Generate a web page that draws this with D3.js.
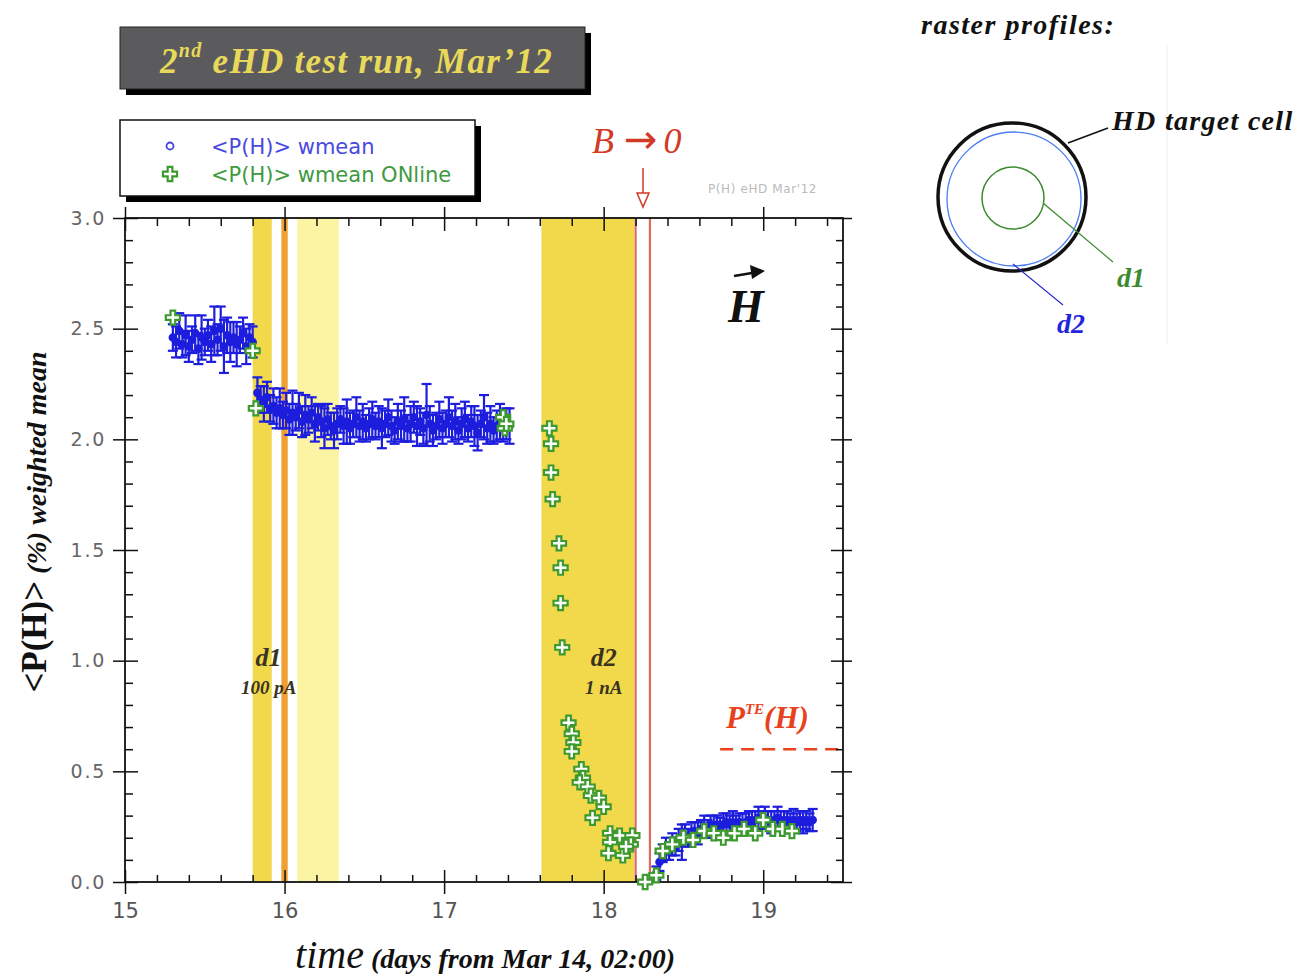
<!DOCTYPE html>
<html>
<head>
<meta charset="utf-8">
<script src="https://cdn.jsdelivr.net/npm/d3@7"></script>
<style>
  body { margin: 0; background: #fff; }
</style>
</head>
<body>
<div class="vis-pchart"></div>
<script>
// ticks
const xTicks = [15, 16, 17, 18, 19];
const yTicks = [0, 0.5, 1.0, 1.5, 2.0, 2.5, 3.0];

// <P(H)> wmean : [time, value, error]
const wmeanA = [
  [15.30, 2.46, 0.06], [15.32, 2.44, 0.07], [15.34, 2.49, 0.08], [15.36, 2.43, 0.06],
  [15.38, 2.47, 0.09], [15.40, 2.42, 0.07], [15.42, 2.45, 0.06], [15.44, 2.48, 0.08],
  [15.46, 2.41, 0.07], [15.48, 2.46, 0.10], [15.50, 2.44, 0.06], [15.52, 2.47, 0.07],
  [15.54, 2.43, 0.08], [15.56, 2.49, 0.11], [15.58, 2.45, 0.07], [15.60, 2.50, 0.10],
  [15.62, 2.42, 0.12], [15.64, 2.47, 0.08], [15.66, 2.44, 0.09], [15.68, 2.46, 0.07],
  [15.70, 2.43, 0.10], [15.72, 2.45, 0.06], [15.74, 2.48, 0.07], [15.76, 2.42, 0.08],
  [15.78, 2.46, 0.06], [15.80, 2.44, 0.07]
];
const wmeanB = [
  [15.83, 2.21, 0.07], [15.85, 2.18, 0.06], [15.87, 2.16, 0.08], [15.89, 2.19, 0.07],
  [15.91, 2.14, 0.06], [15.93, 2.15, 0.08], [15.95, 2.12, 0.07], [15.97, 2.14, 0.09],
  [15.99, 2.11, 0.06], [16.01, 2.13, 0.08], [16.03, 2.09, 0.07], [16.05, 2.12, 0.10],
  [16.07, 2.10, 0.06], [16.09, 2.13, 0.08], [16.11, 2.08, 0.07], [16.13, 2.11, 0.09],
  [16.15, 2.09, 0.06], [16.17, 2.12, 0.07], [16.19, 2.07, 0.08], [16.21, 2.10, 0.06],
  [16.23, 2.08, 0.07], [16.25, 2.05, 0.09], [16.27, 2.09, 0.07], [16.29, 2.06, 0.06],
  [16.31, 2.04, 0.08], [16.33, 2.07, 0.07], [16.35, 2.09, 0.06], [16.37, 2.06, 0.08],
  [16.39, 2.08, 0.10], [16.41, 2.05, 0.07], [16.43, 2.07, 0.06], [16.45, 2.10, 0.09],
  [16.47, 2.06, 0.07], [16.49, 2.08, 0.08], [16.51, 2.05, 0.06], [16.53, 2.07, 0.07],
  [16.55, 2.09, 0.08], [16.57, 2.06, 0.06], [16.59, 2.08, 0.07], [16.61, 2.05, 0.09],
  [16.63, 2.07, 0.06], [16.65, 2.10, 0.08], [16.67, 2.06, 0.07], [16.69, 2.04, 0.06],
  [16.71, 2.08, 0.08], [16.73, 2.06, 0.07], [16.75, 2.09, 0.10], [16.77, 2.05, 0.06],
  [16.79, 2.07, 0.08], [16.81, 2.10, 0.07], [16.83, 2.06, 0.09], [16.85, 2.08, 0.06],
  [16.87, 2.05, 0.07], [16.89, 2.11, 0.14], [16.91, 2.07, 0.08], [16.93, 2.04, 0.07],
  [16.95, 2.06, 0.06], [16.97, 2.09, 0.08], [16.99, 2.05, 0.07], [17.01, 2.07, 0.06],
  [17.03, 2.10, 0.09], [17.05, 2.06, 0.07], [17.07, 2.08, 0.08], [17.09, 2.04, 0.06],
  [17.11, 2.07, 0.07], [17.13, 2.09, 0.08], [17.15, 2.05, 0.06], [17.17, 2.08, 0.07],
  [17.19, 2.06, 0.09], [17.21, 2.03, 0.08], [17.23, 2.07, 0.06], [17.25, 2.10, 0.10],
  [17.27, 2.05, 0.07], [17.29, 2.07, 0.08], [17.31, 2.04, 0.06], [17.33, 2.06, 0.07],
  [17.35, 2.08, 0.08], [17.37, 2.05, 0.06], [17.39, 2.07, 0.07], [17.41, 2.06, 0.08]
];
const wmeanC = [
  [18.33, 0.04, 0.03], [18.35, 0.09, 0.04], [18.37, 0.13, 0.04], [18.39, 0.15, 0.05],
  [18.41, 0.14, 0.04], [18.43, 0.17, 0.05], [18.45, 0.16, 0.04], [18.47, 0.19, 0.05],
  [18.49, 0.18, 0.08], [18.51, 0.21, 0.05], [18.53, 0.20, 0.04], [18.55, 0.22, 0.05],
  [18.57, 0.23, 0.04], [18.59, 0.22, 0.05], [18.61, 0.24, 0.04], [18.63, 0.25, 0.05],
  [18.65, 0.24, 0.04], [18.67, 0.26, 0.04], [18.69, 0.25, 0.05], [18.71, 0.26, 0.04],
  [18.73, 0.25, 0.04], [18.75, 0.26, 0.05], [18.77, 0.27, 0.04], [18.79, 0.26, 0.04],
  [18.81, 0.27, 0.05], [18.83, 0.26, 0.04], [18.85, 0.27, 0.04], [18.87, 0.26, 0.05],
  [18.89, 0.27, 0.04], [18.91, 0.28, 0.04], [18.93, 0.27, 0.05], [18.95, 0.28, 0.04],
  [18.97, 0.29, 0.05], [18.99, 0.28, 0.04], [19.01, 0.29, 0.05], [19.03, 0.28, 0.04],
  [19.05, 0.27, 0.05], [19.07, 0.28, 0.04], [19.09, 0.29, 0.05], [19.11, 0.28, 0.04],
  [19.13, 0.27, 0.05], [19.15, 0.28, 0.04], [19.17, 0.27, 0.04], [19.19, 0.28, 0.05],
  [19.21, 0.27, 0.04], [19.23, 0.28, 0.04], [19.25, 0.27, 0.05], [19.27, 0.28, 0.04],
  [19.29, 0.27, 0.04], [19.31, 0.28, 0.05]
];

// <P(H)> wmean ONline : [time, value]
const online = [
  [15.30, 2.55], [15.80, 2.40], [15.82, 2.14], [17.37, 2.10], [17.38, 2.05], [17.39, 2.07],
  [17.66, 2.05], [17.67, 1.98], [17.67, 1.85], [17.68, 1.73], [17.72, 1.53], [17.73, 1.42],
  [17.73, 1.26], [17.74, 1.06], [17.78, 0.72], [17.80, 0.67], [17.81, 0.63], [17.80, 0.59],
  [17.86, 0.51], [17.87, 0.47], [17.85, 0.45], [17.90, 0.43], [17.92, 0.39], [17.97, 0.38],
  [18.00, 0.34], [17.93, 0.29], [18.04, 0.22], [18.10, 0.21], [18.18, 0.21], [18.04, 0.18],
  [18.17, 0.17], [18.03, 0.13], [18.12, 0.12], [18.14, 0.16], [18.26, 0.00], [18.33, 0.03],
  [18.37, 0.14], [18.43, 0.17], [18.50, 0.20], [18.56, 0.19], [18.63, 0.23], [18.69, 0.22],
  [18.75, 0.20], [18.82, 0.22], [18.88, 0.24], [18.95, 0.22], [19.00, 0.28], [19.06, 0.24],
  [19.12, 0.24], [19.18, 0.23]
];

// beam periods: [start, end, kind]
const bands = [
  [15.80, 15.92, "d1"], [15.98, 16.02, "orange"], [16.08, 16.34, "light"], [17.61, 18.19, "d2"]
];
const bOffLines = [18.20, 18.29];
const pTE = 0.6;

const bandColor = {d1: "#f1d94b", d2: "#f1d94b", orange: "#f0a033", light: "#fbf4a2"};
const blue = "#1d1ddd", green = "#3c9a2e", red = "#d23a26";
const serif = "Liberation Serif, DejaVu Serif, serif";
const sans = "DejaVu Sans, Verdana, sans-serif";

const svg = d3.select(".vis-pchart").append("svg")
    .attr("width", 1313)
    .attr("height", 977)
    .attr("font-family", serif);

const x = d3.scaleLinear().domain([15, 19.5]).range([125, 843]);
const y = d3.scaleLinear().domain([0, 3]).range([882, 218]);

// bands
svg.append("g").selectAll("rect")
    .data(bands)
    .enter().append("rect")
    .attr("x", d => x(d[0]))
    .attr("width", d => x(d[1]) - x(d[0]))
    .attr("y", y(3))
    .attr("height", y(0) - y(3))
    .attr("fill", d => bandColor[d[2]]);

svg.append("g").selectAll("line")
    .data(bOffLines)
    .enter().append("line")
    .attr("x1", d => x(d)).attr("x2", d => x(d))
    .attr("y1", y(3)).attr("y2", y(0))
    .attr("stroke", "#dd6a5a")
    .attr("stroke-width", 2.2);

// P_TE dashed line
svg.append("line")
    .attr("x1", x(18.73)).attr("x2", x(19.5))
    .attr("y1", y(pTE)).attr("y2", y(pTE))
    .attr("stroke", "#e8421c")
    .attr("stroke-width", 2.5)
    .attr("stroke-dasharray", "13,8");

// axes
const minorX = d3.range(15, 19.51, 0.2).filter(v => Math.abs(v - Math.round(v)) > 0.01);
const minorY = d3.range(0, 3.01, 0.1).filter(v => Math.abs(v * 2 - Math.round(v * 2)) > 0.01);

function axisPart(gen, tr, vals, size, fmt) {
    const g = svg.append("g")
        .attr("transform", tr)
        .call(gen.tickValues(vals).tickSize(size).tickSizeOuter(0).tickFormat(fmt || ""));
    g.select(".domain").remove();
    g.selectAll("line").attr("stroke", "#111").attr("stroke-width", 1.5);
    return g;
}

const bx = axisPart(d3.axisBottom(x), "translate(0,882)", xTicks, 12, d3.format("d"));
bx.selectAll("text").style("font-family", sans)
    .style("font-size", "21px").attr("fill", "#555").attr("dy", "1.0em");
axisPart(d3.axisBottom(x), "translate(0,882)", xTicks, -12);
axisPart(d3.axisBottom(x), "translate(0,882)", minorX, -7);
axisPart(d3.axisTop(x), "translate(0,218)", xTicks, 11);
axisPart(d3.axisTop(x), "translate(0,218)", xTicks, -13);
axisPart(d3.axisTop(x), "translate(0,218)", minorX, -8);

const ly = axisPart(d3.axisLeft(y), "translate(125,0)", yTicks, 12, d3.format(".1f"));
ly.selectAll("text").style("font-family", sans)
    .style("font-size", "19px").attr("fill", "#666").attr("letter-spacing", 1.8).attr("dx", "-0.2em");
axisPart(d3.axisLeft(y), "translate(125,0)", yTicks, -13);
axisPart(d3.axisLeft(y), "translate(125,0)", minorY, -8);
axisPart(d3.axisRight(y), "translate(843,0)", yTicks, 9);
axisPart(d3.axisRight(y), "translate(843,0)", yTicks, -12);
axisPart(d3.axisRight(y), "translate(843,0)", minorY, -7);

svg.append("rect")
    .attr("x", x(15)).attr("y", y(3))
    .attr("width", x(19.5) - x(15)).attr("height", y(0) - y(3))
    .attr("fill", "none").attr("stroke", "#111").attr("stroke-width", 1.8);

// wmean with error bars
const wmean = wmeanA.concat(wmeanB, wmeanC);
const pts = svg.append("g").selectAll("g")
    .data(wmean)
    .enter().append("g")
    .attr("stroke", blue)
    .attr("stroke-width", 2.2)
    .attr("fill", "none");

pts.append("line")
    .attr("x1", d => x(d[0])).attr("x2", d => x(d[0]))
    .attr("y1", d => y(d[1] - d[2])).attr("y2", d => y(d[1] + d[2]));
pts.append("line")
    .attr("x1", d => x(d[0]) - 5).attr("x2", d => x(d[0]) + 5)
    .attr("y1", d => y(d[1] + d[2])).attr("y2", d => y(d[1] + d[2]));
pts.append("line")
    .attr("x1", d => x(d[0]) - 5).attr("x2", d => x(d[0]) + 5)
    .attr("y1", d => y(d[1] - d[2])).attr("y2", d => y(d[1] - d[2]));
pts.append("circle")
    .attr("cx", d => x(d[0])).attr("cy", d => y(d[1]))
    .attr("r", 3.2)
    .attr("fill", blue);

// ONline crosses
const cross = d3.symbol().type(d3.symbolCross).size(110);
svg.append("g").selectAll("path")
    .data(online)
    .enter().append("path")
    .attr("d", cross)
    .attr("transform", d => `translate(${x(d[0])},${y(d[1])})`)
    .attr("fill", "#fff")
    .attr("stroke", green)
    .attr("stroke-width", 2.2);

// annotations inside the plot
const note = svg.append("g").attr("font-style", "italic").attr("font-weight", "bold");
note.append("text").attr("x", x(15.9)).attr("y", 666).attr("text-anchor", "middle")
    .attr("font-size", 26).attr("fill", "#3a3320").text("d1");
note.append("text").attr("x", x(15.9)).attr("y", 694).attr("text-anchor", "middle")
    .attr("font-size", 19).attr("fill", "#3a3320").text("100 pA");
note.append("text").attr("x", x(18.0)).attr("y", 666).attr("text-anchor", "middle")
    .attr("font-size", 26).attr("fill", "#3a3320").text("d2");
note.append("text").attr("x", x(18.0)).attr("y", 694).attr("text-anchor", "middle")
    .attr("font-size", 19).attr("fill", "#3a3320").text("1 nA");

const pte = note.append("text").attr("x", 726).attr("y", 728)
    .attr("font-size", 31).attr("fill", "#e8421c");
pte.append("tspan").text("P");
pte.append("tspan").attr("font-size", 15).attr("dy", -14).text("TE");
pte.append("tspan").attr("dy", 14).text("(H)");

note.append("text").attr("x", 728).attr("y", 322)
    .attr("font-size", 46).attr("fill", "#111").text("H");
svg.append("line").attr("x1", 734).attr("y1", 276).attr("x2", 758).attr("y2", 272)
    .attr("stroke", "#111").attr("stroke-width", 2.5);
svg.append("path").attr("d", "M750,265 L765,271 L752,279 Z").attr("fill", "#111");

// B -> 0
const bt = svg.append("text").attr("x", 592).attr("y", 153)
    .attr("font-style", "italic").attr("font-size", 36).attr("fill", red);
bt.append("tspan").text("B");
bt.append("tspan").attr("dx", 10).attr("font-style", "normal").attr("font-family", sans)
    .attr("font-size", 40).text("\u2192");
bt.append("tspan").attr("dx", 6).text("0");
svg.append("line").attr("x1", 643).attr("y1", 168).attr("x2", 643).attr("y2", 205)
    .attr("stroke", red).attr("stroke-width", 1.5);
svg.append("path").attr("d", "M637,193 L649,193 L643,207 Z")
    .attr("fill", "#fff").attr("stroke", red).attr("stroke-width", 1.5);

svg.append("text").attr("x", 708).attr("y", 193)
    .style("font-family", sans).attr("font-size", 12)
    .attr("fill", "#bbb").attr("letter-spacing", 0.6).text("P(H) eHD Mar'12");

// title box
svg.append("rect").attr("x", 126).attr("y", 33).attr("width", 465).attr("height", 62).attr("fill", "#000");
svg.append("rect").attr("x", 120).attr("y", 27).attr("width", 465).attr("height", 62)
    .attr("fill", "#5b5b5d").attr("stroke", "#222").attr("stroke-width", 1);
const title = svg.append("text").attr("x", 160).attr("y", 73)
    .attr("font-style", "italic").attr("font-weight", "bold").attr("font-size", 35)
    .attr("letter-spacing", 1.3).attr("fill", "#e9d95a");
title.append("tspan").text("2");
title.append("tspan").attr("font-size", 20).attr("dy", -16).text("nd");
title.append("tspan").attr("dy", 16).text(" eHD test run, Mar\u201912");

// legend box
svg.append("rect").attr("x", 126).attr("y", 126).attr("width", 355).attr("height", 76).attr("fill", "#000");
svg.append("rect").attr("x", 120).attr("y", 120).attr("width", 355).attr("height", 76)
    .attr("fill", "#fff").attr("stroke", "#111").attr("stroke-width", 1.5);
svg.append("circle").attr("cx", 170).attr("cy", 146).attr("r", 3.5)
    .attr("fill", "#fff").attr("stroke", "#4444dd").attr("stroke-width", 1.8);
svg.append("path").attr("d", cross).attr("transform", "translate(170,174)")
    .attr("fill", "#fff").attr("stroke", green).attr("stroke-width", 2.2);
svg.append("text").attr("x", 211).attr("y", 154)
    .style("font-family", sans).attr("font-size", 21)
    .attr("fill", "#4a4ae0").text("<P(H)> wmean");
svg.append("text").attr("x", 211).attr("y", 182)
    .style("font-family", sans).attr("font-size", 21)
    .attr("fill", "#3f9a3f").text("<P(H)> wmean ONline");

// axis titles
const yl = svg.append("text")
    .attr("transform", "translate(46,522) rotate(-90)")
    .attr("text-anchor", "middle").attr("font-weight", "bold").attr("fill", "#111");
yl.append("tspan").attr("font-size", 35).text("<P(H)>");
yl.append("tspan").attr("font-size", 28).attr("font-style", "italic").text(" (%) weighted mean");

const xl = svg.append("text").attr("x", 485).attr("y", 968)
    .attr("text-anchor", "middle").attr("font-style", "italic").attr("fill", "#111");
xl.append("tspan").attr("font-size", 40).text("time");
xl.append("tspan").attr("font-size", 28).attr("font-weight", "bold").text(" (days from Mar 14, 02:00)");

// raster profiles sketch
const rp = svg.append("g");
rp.append("line").attr("x1", 1167).attr("y1", 45).attr("x2", 1167).attr("y2", 345)
    .attr("stroke", "#eee").attr("stroke-width", 1);
rp.append("text").attr("x", 921).attr("y", 34).attr("font-size", 28).attr("letter-spacing", 1.5)
    .attr("font-style", "italic").attr("font-weight", "bold").attr("fill", "#111").text("raster profiles:");
rp.append("circle").attr("cx", 1012).attr("cy", 197).attr("r", 74)
    .attr("fill", "none").attr("stroke", "#111").attr("stroke-width", 3.5);
rp.append("circle").attr("cx", 1014).attr("cy", 199).attr("r", 67)
    .attr("fill", "none").attr("stroke", "#4a7ef0").attr("stroke-width", 1.3);
rp.append("circle").attr("cx", 1013).attr("cy", 198).attr("r", 31)
    .attr("fill", "none").attr("stroke", "#3c8a2e").attr("stroke-width", 1.5);
rp.append("line").attr("x1", 1068).attr("y1", 143).attr("x2", 1108).attr("y2", 128)
    .attr("stroke", "#111").attr("stroke-width", 1.5);
rp.append("line").attr("x1", 1043).attr("y1", 203).attr("x2", 1113).attr("y2", 262)
    .attr("stroke", "#3c8a2e").attr("stroke-width", 1.2);
rp.append("line").attr("x1", 1013).attr("y1", 264).attr("x2", 1063).attr("y2", 305)
    .attr("stroke", "#2a2ad0").attr("stroke-width", 1.2);
rp.append("text").attr("x", 1112).attr("y", 130).attr("font-size", 28).attr("letter-spacing", 1.3)
    .attr("font-style", "italic").attr("font-weight", "bold").attr("fill", "#111").text("HD target cell");
rp.append("text").attr("x", 1117).attr("y", 287).attr("font-size", 28)
    .attr("font-style", "italic").attr("font-weight", "bold").attr("fill", "#3c8a2e").text("d1");
rp.append("text").attr("x", 1057).attr("y", 333).attr("font-size", 28)
    .attr("font-style", "italic").attr("font-weight", "bold").attr("fill", "#2424dd").text("d2");
</script>
</body>
</html>
